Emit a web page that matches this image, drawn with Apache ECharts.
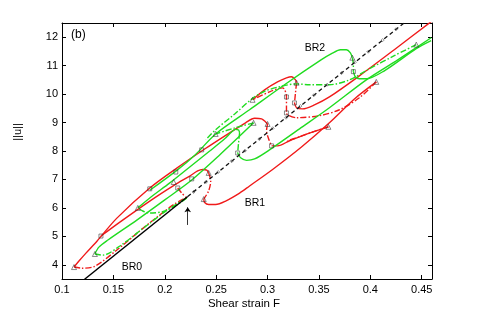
<!DOCTYPE html>
<html><head><meta charset="utf-8">
<script src="https://cdn.jsdelivr.net/npm/echarts@6/dist/echarts.min.js"></script>
<style>html,body{margin:0;padding:0;background:#fff}#c{width:477px;height:314px}</style>
</head><body><div id="c"></div>
<script>
// ---- data ----
const xTickValues = [0.1,0.15,0.2,0.25,0.3,0.35,0.4,0.45];
const yTickValues = [4,5,6,7,8,9,10,11,12];

const br0Stable   = [[0.122,3.49],[0.2223,6.40]];
const br0Unstable = [[0.2223,6.40],[0.433,12.51]];
const br0Marks = [[0.228,6.56],[0.240,6.91],[0.252,7.26],[0.265,7.64],[0.278,8.01],[0.292,8.42],[0.305,8.80],[0.318,9.17],[0.332,9.58],[0.345,9.96],[0.358,10.33],[0.372,10.74],[0.385,11.12],[0.398,11.49],[0.412,11.90],[0.425,12.28]];

// red branches
const redOuterSolid = [[0.1117,3.92],[0.1165,4.13],[0.1233,4.41],[0.1340,4.83],[0.1534,5.64],[0.1854,6.70],[0.2117,7.40],[0.2388,8.07],[0.2631,8.64],[0.2786,8.99],[0.2874,9.15],[0.2942,9.13],[0.2981,9.02],[0.3000,8.95]];
const redDrop1      = [[0.3000,8.95],[0.2990,8.71],[0.3010,8.43],[0.3039,8.18]];
const redMidSolid   = [[0.3039,8.18],[0.3097,8.18],[0.3214,8.36],[0.3359,8.57],[0.3592,8.85]];
const redMidBack    = [[0.3592,8.85],[0.3456,8.69],[0.3311,8.50],[0.3194,8.36]];
const redLowDash    = [[0.1117,3.92],[0.1194,3.88],[0.1320,3.95],[0.1534,4.52],[0.1757,5.19],[0.1951,5.75],[0.2097,6.14],[0.2214,6.37]];
const redInnerSolid = [[0.1379,5.01],[0.1563,5.50],[0.1854,6.24],[0.2097,6.81],[0.2243,7.12],[0.2320,7.30],[0.2369,7.35],[0.2408,7.33],[0.2427,7.23]];
const redHookDash   = [[0.2427,7.23],[0.2447,6.95],[0.2427,6.60],[0.2379,6.31]];
const br1Solid      = [[0.2379,6.31],[0.2388,6.19],[0.2427,6.12],[0.2495,6.12],[0.2592,6.24],[0.2728,6.52],[0.2825,6.77],[0.3049,7.35],[0.3330,8.14],[0.3602,8.99],[0.3845,9.83],[0.4058,10.43]];
const redUpperDash  = [[0.4058,10.43],[0.3893,9.87],[0.3699,9.45],[0.3505,9.24],[0.3282,9.17],[0.3184,9.34],[0.3184,9.90],[0.3146,10.22],[0.3019,10.08],[0.2854,9.80]];
const redBr2Solid   = [[0.2854,9.80],[0.2971,10.15],[0.3097,10.43],[0.3184,10.57],[0.3233,10.61],[0.3272,10.50],[0.3282,10.40]];
const redBr2Drop    = [[0.3282,10.40],[0.3272,10.05],[0.3262,9.69]];
const redBr2Tail    = [[0.3262,9.69],[0.3282,9.52],[0.3340,9.48],[0.3456,9.62],[0.3602,9.90],[0.3893,10.64],[0.4233,11.56],[0.4592,12.55]];
const redBranchDash = [[0.2126,6.70],[0.2165,6.52],[0.2214,6.35]];

// green branches
const greenLowDash   = [[0.1320,4.38],[0.1398,4.34],[0.1563,4.66],[0.1806,5.33],[0.2000,5.86],[0.2146,6.21],[0.2214,6.35]];
const greenLowSolid  = [[0.1320,4.38],[0.1359,4.62],[0.1447,4.87],[0.1728,5.57],[0.2000,6.28],[0.2262,6.98],[0.2534,7.86],[0.2864,8.99]];
const greenFoldDash  = [[0.2864,8.99],[0.2680,8.81],[0.2495,8.60]];
const greenMidDash   = [[0.2214,6.35],[0.2146,6.17],[0.2000,5.89],[0.1854,5.82],[0.1786,5.89],[0.1738,6.00]];
const greenMidSolid  = [[0.1738,6.00],[0.1854,6.35],[0.2049,6.88],[0.2243,7.44],[0.2437,8.00],[0.2583,8.43],[0.2650,8.67],[0.2689,8.76],[0.2718,8.74],[0.2728,8.64]];
const greenMidDrop   = [[0.2728,8.64],[0.2718,8.29],[0.2709,7.93]];
const greenLongSolid = [[0.2709,7.93],[0.2738,7.76],[0.2796,7.67],[0.2874,7.72],[0.3019,8.04],[0.3311,8.78],[0.3602,9.52],[0.3961,10.50],[0.4252,11.17],[0.4592,11.98]];
const greenBr2Solid  = [[0.1854,6.62],[0.2117,7.32],[0.2300,7.88],[0.2495,8.60],[0.2825,9.45],[0.3165,10.33],[0.3524,11.21],[0.3631,11.44],[0.3709,11.56],[0.3767,11.56],[0.3806,11.45],[0.3825,11.28]];
const greenBr2Drop   = [[0.3825,11.28],[0.3835,11.03],[0.3835,10.79]];
const greenBr2Tail   = [[0.3835,10.79],[0.3854,10.61],[0.3893,10.54],[0.3961,10.54],[0.4136,10.82],[0.4447,11.60],[0.4592,11.88]];
const greenBr2Back   = [[0.4447,11.74],[0.4233,11.35],[0.3990,10.89],[0.3796,10.50],[0.3602,10.33],[0.3408,10.33],[0.3282,10.36],[0.3117,10.26],[0.2971,10.10],[0.2854,9.85],[0.2680,9.30],[0.2495,8.75],[0.2400,8.40]];

// special points
const foldPoints = [[0.1117,3.92],[0.1320,4.38],[0.1738,6.00],[0.2087,6.91],[0.2427,7.23],[0.2379,6.31],[0.2495,8.60],[0.2864,8.99],[0.2854,9.80],[0.3592,8.85],[0.4058,10.43],[0.4447,11.74],[0.3282,10.40],[0.3825,11.28],[0.3000,8.95]];
const branchPoints = [[0.1379,5.01],[0.1854,6.67],[0.2126,6.70],[0.2262,7.02],[0.2107,7.26],[0.2359,8.04],[0.2709,7.93],[0.3184,9.90],[0.3184,9.34],[0.3262,9.69],[0.3835,10.79],[0.3039,8.18]];
const arrowFrom = [0.2223,5.40];
const arrowTo   = [0.2223,6.02];

// ---- chart ----
const RED = '#f01a1a', GREEN = '#20dc20';
const DASHDOT = [6,2,1.5,2];
function curve(data, color, dashed, z) {
  return {type:'line', data, showSymbol:false, symbol:'none', smooth:0.3,
    lineStyle:{color, width:1.4, type: dashed ? DASHDOT : 'solid'},
    z: z || 2, silent:true, animation:false};
}
const hollow = {color:'rgba(255,255,255,0)', borderColor:'#333', borderWidth:0.7};
const series = [
  {type:'line', data:br0Stable, showSymbol:false, symbol:'none', lineStyle:{color:'#000', width:1.5}, silent:true, animation:false,
   markLine:{silent:true, symbol:['none','arrow'], symbolSize:5, lineStyle:{color:'#000', width:0.8, type:'solid'}, label:{show:false},
     data:[[{coord:arrowFrom},{coord:arrowTo}]], animation:false}},
  {type:'line', data:br0Unstable, showSymbol:false, symbol:'none', lineStyle:{color:'#111', width:1.3, type:[4,3]}, silent:true, animation:false},
  {type:'scatter', data:br0Marks, symbol:'diamond', symbolSize:3, itemStyle:{color:'rgba(255,255,255,0)', borderColor:'#444', borderWidth:0.7}, silent:true, animation:false, z:3},
  curve(redLowDash, RED, true), curve(redOuterSolid, RED, false), curve(redDrop1, RED, true),
  curve(redMidSolid, RED, false), curve(redMidBack, RED, true), curve(redInnerSolid, RED, false),
  curve(redHookDash, RED, true), curve(br1Solid, RED, false), curve(redUpperDash, RED, true),
  curve(redBr2Solid, RED, false), curve(redBr2Drop, RED, true), curve(redBr2Tail, RED, false),
  curve(redBranchDash, RED, true),
  curve(greenLowDash, GREEN, true), curve(greenLowSolid, GREEN, false), curve(greenFoldDash, GREEN, true),
  curve(greenMidDash, GREEN, true), curve(greenMidSolid, GREEN, false), curve(greenMidDrop, GREEN, true),
  curve(greenLongSolid, GREEN, false), curve(greenBr2Solid, GREEN, false), curve(greenBr2Drop, GREEN, true),
  curve(greenBr2Tail, GREEN, false), curve(greenBr2Back, GREEN, true),
  {type:'scatter', data:foldPoints, symbol:'triangle', symbolSize:5, itemStyle:hollow, silent:true, animation:false, z:4},
  {type:'scatter', data:branchPoints, symbol:'rect', symbolSize:4, itemStyle:hollow, silent:true, animation:false, z:4}
];

const axisCommon = {
  axisLine:{show:true, onZero:false, lineStyle:{color:'#000', width:1}},
  axisTick:{show:true, inside:true, length:4, lineStyle:{color:'#000', width:1}},
  splitLine:{show:false}
};
const fmt = v => String(+(+v).toFixed(2));
const chart = echarts.init(document.getElementById('c'), null, {renderer:'canvas'});
chart.setOption({
  animation:false,
  backgroundColor:'#fff',
  textStyle:{fontFamily:'"Liberation Sans", Arial, sans-serif'},
  grid:{left:62, right:45, top:23, bottom:35, containLabel:false},
  xAxis:[
    Object.assign({type:'value', min:xTickValues[0], max:0.46, interval:0.05, position:'bottom',
      axisLabel:{color:'#000', fontSize:11, margin:5, showMaxLabel:false, formatter:fmt}}, axisCommon),
    Object.assign({type:'value', min:xTickValues[0], max:0.46, interval:0.05, position:'top',
      axisLabel:{show:false}}, axisCommon)
  ],
  yAxis:[
    Object.assign({type:'value', min:3.5, max:12.5, minInterval:1, maxInterval:1, splitNumber:9, position:'left',
      axisLabel:{color:'#000', fontSize:11, margin:4, showMinLabel:false, showMaxLabel:false,
        formatter: v => yTickValues.indexOf(+v) >= 0 ? String(+v) : ''}}, axisCommon),
    Object.assign({type:'value', min:3.5, max:12.5, minInterval:1, maxInterval:1, splitNumber:9, position:'right',
      axisLabel:{show:false}}, axisCommon)
  ],
  series: series,
  graphic:[
    {type:'text', x:71, y:35, style:{text:'(b)', fill:'#000', font:'12px "Liberation Sans"', verticalAlign:'middle'}},
    {type:'text', x:315, y:48, style:{text:'BR2', fill:'#000', font:'10.5px "Liberation Sans"', align:'center', verticalAlign:'middle'}},
    {type:'text', x:255, y:203, style:{text:'BR1', fill:'#000', font:'10.5px "Liberation Sans"', align:'center', verticalAlign:'middle'}},
    {type:'text', x:132, y:267, style:{text:'BR0', fill:'#000', font:'10.5px "Liberation Sans"', align:'center', verticalAlign:'middle'}},
    {type:'text', x:244, y:304, style:{text:'Shear strain F', fill:'#000', font:'11.5px "Liberation Sans"', align:'center', verticalAlign:'middle'}},
    {type:'text', x:18, y:132, rotation:Math.PI/2, style:{text:'||u||', fill:'#000', font:'11px "Liberation Sans"', align:'center', verticalAlign:'middle'}}
  ]
});
</script></body></html>
